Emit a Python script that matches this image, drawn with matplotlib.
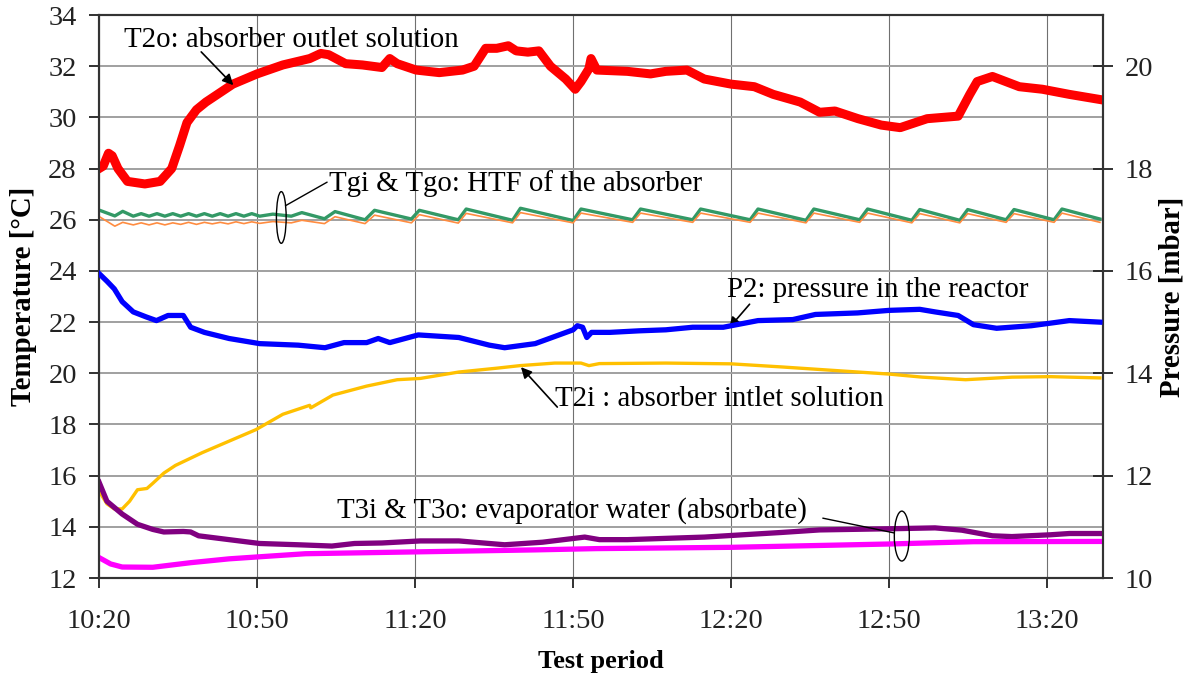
import matplotlib
matplotlib.use('Agg')
import matplotlib.pyplot as plt
from matplotlib.patches import Ellipse

# x values are minutes after 10:20
time_ticks = [0, 30, 60, 90, 120, 150, 180]
time_labels = ['10:20', '10:50', '11:20', '11:50', '12:20', '12:50', '13:20']

# T2o: absorber outlet solution [°C]
t2o_t = [0, 0.8, 1.8, 2.5, 3.6, 5.4, 8.7, 11.6, 13.8, 15.3, 16.7, 18.5, 20.3, 25.4, 30,
         34.9, 40, 42.1, 43.6, 46.8, 50, 53.7, 55.2, 56.6, 60.2, 64.6, 69, 71.2, 73.4, 75.5,
         77.7, 79.2, 81.4, 83.5, 85.7, 88.6, 90.4, 91.5, 93.0, 93.4, 94.5, 100.3, 104.7, 107.6,
         111.6, 114.9, 120, 124.4, 128, 133.1, 136.8, 139.7, 144.1, 148.5, 152.1, 157.2, 163.1,
         165.3, 166.7, 169.6, 174.7, 179.1, 184.2, 190]
t2o = [28.0, 28.1, 28.6, 28.5, 28.0, 27.5, 27.4, 27.5, 28.0, 28.9, 29.8, 30.3, 30.6, 31.3, 31.7,
       32.05, 32.3, 32.5, 32.45, 32.1, 32.05, 31.95, 32.3, 32.1, 31.85, 31.75, 31.85, 32.0, 32.7, 32.7,
       32.8, 32.6, 32.55, 32.6, 32.0, 31.5, 31.1, 31.4, 31.9, 32.3, 31.85, 31.8, 31.7, 31.8,
       31.85, 31.5, 31.3, 31.2, 30.9, 30.6, 30.2, 30.25, 29.95, 29.7, 29.6, 29.95, 30.05,
       30.9, 31.4, 31.6, 31.2, 31.1, 30.9, 30.7]

# Tgi / Tgo: HTF of the absorber [°C]
htf_t = [0, 3.0, 4.5, 6.5, 8, 9.5, 11, 12.5, 14, 15.5, 17, 18.5, 20, 21.5, 23, 24.5, 26, 27.5,
         29, 30.5, 33, 36.5, 38.5, 42.8, 44.8, 50.5, 52.3, 59.3, 60.8, 68.2, 69.7, 78.5, 80.0,
         90.0, 91.5, 101.3, 102.8, 112.7, 114.2, 123.6, 125.1, 134.2, 135.7, 144.4, 145.9,
         154.3, 155.8, 163.4, 164.9, 172.2, 173.7, 181.3, 182.8, 190]
tgi = [26.38, 26.15, 26.33, 26.14, 26.24, 26.14, 26.24, 26.14, 26.24, 26.14, 26.24, 26.14, 26.24,
       26.14, 26.24, 26.14, 26.24, 26.14, 26.24, 26.14, 26.22, 26.14, 26.28, 26.04, 26.32, 26.0,
       26.37, 26.03, 26.37, 26.0, 26.42, 25.98, 26.45, 25.97, 26.42, 26.0, 26.42, 26.0, 26.42,
       26.0, 26.42, 25.98, 26.42, 26.0, 26.42, 25.98, 26.4, 25.98, 26.4, 26.0, 26.4, 26.0,
       26.42, 26.03]
tgo = [26.13, 25.75, 25.9, 25.8, 25.88, 25.8, 25.88, 25.8, 25.88, 25.82, 25.9, 25.82, 25.9,
       25.84, 25.9, 25.84, 25.92, 25.85, 25.92, 25.86, 25.93, 25.88, 25.98, 25.85, 26.12, 25.85,
       26.18, 25.88, 26.2, 25.87, 26.25, 25.88, 26.28, 25.88, 26.26, 25.9, 26.26, 25.9, 26.26,
       25.9, 26.26, 25.88, 26.26, 25.9, 26.26, 25.88, 26.24, 25.88, 26.24, 25.9, 26.24, 25.9,
       26.26, 25.9]

# P2: pressure in the reactor [mbar]
p2_t = [0, 1.5, 2.9, 4.4, 6.5, 9, 10.9, 13.1, 16, 17.4, 20, 24.7, 30.5, 37.8, 42.9, 46.5, 50.8,
        53, 55.2, 60.6, 68.3, 74.1, 77, 82.8, 90, 90.8, 91.8, 92.6, 93.5, 97, 102.5, 107.6,
        112.7, 118.5, 125.1, 131.7, 136, 144, 150, 155.8, 158.7, 163.1, 166, 170.4, 177, 184.2, 190]
p2 = [15.95, 15.8, 15.65, 15.4, 15.2, 15.1, 15.03, 15.13, 15.13, 14.9, 14.8, 14.68, 14.58, 14.55,
      14.5, 14.6, 14.6, 14.68, 14.6, 14.75, 14.7, 14.55, 14.5, 14.58, 14.85, 14.93, 14.9, 14.7,
      14.8, 14.8, 14.83, 14.85, 14.9, 14.9, 15.03, 15.05, 15.15, 15.18, 15.23, 15.25, 15.2,
      15.13, 14.95, 14.88, 14.93, 15.03, 15.0]

# T2i: absorber inlet solution [°C]
t2i_t = [0, 1.5, 2.9, 4.4, 5.8, 7.3, 9.1, 10.2, 12.3, 14.5, 19.6, 24.7, 29.8, 34.9, 40.0, 40.2,
         44.4, 50.8, 56.6, 61, 68.3, 75.5, 79.9, 86.5, 91.5, 93, 95, 107.6, 120, 129.5, 140.4,
         150, 156.3, 164.5, 173.3, 180.6, 190]
t2i = [15.4, 14.9, 14.7, 14.7, 15.0, 15.45, 15.5, 15.7, 16.1, 16.4, 16.9, 17.35, 17.8, 18.4, 18.75,
       18.65, 19.15, 19.5, 19.75, 19.8, 20.05, 20.2, 20.3, 20.4, 20.4, 20.3, 20.38, 20.4, 20.37,
       20.25, 20.1, 19.97, 19.85, 19.75, 19.85, 19.87, 19.82]

# T3i & T3o: evaporator water [°C]
t3i_t = [0, 1.5, 4.4, 7.3, 10.2, 12.3, 16, 17.4, 18.9, 24.7, 30.5, 37.8, 44.2, 48.5, 53.7, 61,
         68.3, 77, 84.2, 92.2, 95, 100.3, 114.9, 129.5, 136.8, 151.4, 158.7, 163.8, 169.6,
         173.3, 180.6, 184.2, 190]
t3i = [15.75, 15.0, 14.5, 14.1, 13.9, 13.8, 13.82, 13.8, 13.65, 13.5, 13.35, 13.3, 13.25, 13.35,
       13.37, 13.45, 13.45, 13.3, 13.4, 13.6, 13.5, 13.5, 13.6, 13.78, 13.88, 13.93, 13.96, 13.87,
       13.65, 13.62, 13.69, 13.74, 13.74]
t3o_t = [0, 2.2, 4.4, 10.2, 17.4, 24.7, 31.9, 39.2, 53.7, 68.3, 82.8, 94.4, 120, 150, 166, 190]
t3o = [12.8, 12.55, 12.43, 12.42, 12.6, 12.75, 12.85, 12.95, 13.0, 13.05, 13.1, 13.15, 13.2,
       13.33, 13.42, 13.43]


def main():
    plt.rcParams['font.family'] = ['Liberation Serif', 'DejaVu Serif']
    fig = plt.figure(figsize=(11.93, 6.81), dpi=100)
    ax = fig.add_axes([0.083, 0.1512, 0.8416, 0.8267])
    ax2 = ax.twinx()

    ax.plot(t2o_t, t2o, color='#ff0000', lw=6.5, solid_joinstyle='round', zorder=3)
    ax.plot(htf_t, tgi, color='#339966', lw=2.4, zorder=3)
    ax.plot(htf_t, tgo, color='#ff8c40', lw=1.2, zorder=3)
    ax.plot(t2i_t, t2i, color='#ffc000', lw=2.4, zorder=3)
    ax.plot(t3i_t, t3i, color='#800080', lw=3.8, zorder=3)
    ax.plot(t3o_t, t3o, color='#ff00ff', lw=3.8, zorder=3)
    ax2.plot(p2_t, p2, color='#0000ff', lw=3.8, zorder=3)

    ax.set_xlim(0, 190.6)
    ax.set_ylim(12, 34)
    ax2.set_ylim(10, 21)
    ax.set_xticks(time_ticks)
    ax.set_xticklabels(time_labels)
    ax.set_yticks(range(12, 35, 2))
    ax2.set_yticks(range(10, 21, 2))

    ax.grid(axis='y', color='#a0a0a0', lw=1.4)
    ax.grid(axis='x', color='#707070', lw=0.8)
    ax.set_axisbelow(True)

    for a in (ax, ax2):
        for s in a.spines.values():
            s.set_color('#333333')
            s.set_linewidth(1.5)
    ax.tick_params(axis='both', labelsize=20.5, colors='#222222', width=1.3)
    ax.tick_params(axis='y', direction='out', length=7, pad=9)
    ax.tick_params(axis='x', direction='out', length=7, pad=15)
    ax2.tick_params(axis='y', direction='inout', length=15, width=1.3, labelsize=20.5,
                    colors='#222222', pad=8)

    ax.set_ylabel('Temperature [°C]', fontsize=20.8, fontweight='bold', labelpad=8)
    ax2.set_ylabel('Pressure [mbar]', fontsize=20.8, fontweight='bold', labelpad=4)
    ax.set_xlabel('Test period', fontsize=19, fontweight='bold', labelpad=12)

    # annotations
    fs = 20.8
    head = dict(arrowstyle='-|>', color='black', lw=1.2, mutation_scale=16,
                shrinkA=0, shrinkB=0)
    plain = dict(arrowstyle='-', color='black', lw=1.0, shrinkA=0, shrinkB=0)

    ax.text(4.8, 32.75, 'T2o: absorber outlet solution', fontsize=fs, va='baseline', zorder=5)
    ax.annotate('', xy=(25.5, 31.26), xytext=(19.4, 32.56), arrowprops=head, zorder=5)

    ax.text(43.7, 27.13, 'Tgi & Tgo: HTF of the absorber', fontsize=fs, va='baseline', zorder=5)
    ax.add_patch(Ellipse((34.6, 26.09), 1.85, 2.02, fill=False, ec='black', lw=1.0, zorder=5))
    ax.annotate('', xy=(35.4, 26.55), xytext=(43.3, 27.47), arrowprops=plain, zorder=5)

    ax.text(119.2, 23.0, 'P2: pressure in the reactor', fontsize=fs, va='baseline', zorder=5)
    ax.annotate('', xy=(119.6, 21.77), xytext=(123.5, 22.7), arrowprops=head, zorder=5)

    ax.text(86.6, 18.72, 'T2i : absorber intlet solution', fontsize=fs, va='baseline', zorder=5)
    ax.annotate('', xy=(80.1, 20.24), xytext=(87.0, 18.68), arrowprops=head, zorder=5)

    ax.text(45.2, 14.34, 'T3i & T3o: evaporator water (absorbate)', fontsize=fs,
            va='baseline', zorder=5)
    ax.add_patch(Ellipse((152.4, 13.64), 2.85, 1.95, fill=False, ec='black', lw=1.0, zorder=5))
    ax.annotate('', xy=(151.0, 13.76), xytext=(137.4, 14.34), arrowprops=plain, zorder=5)

    fig.savefig('out.png', dpi=100)


if __name__ == "__main__":
    main()
